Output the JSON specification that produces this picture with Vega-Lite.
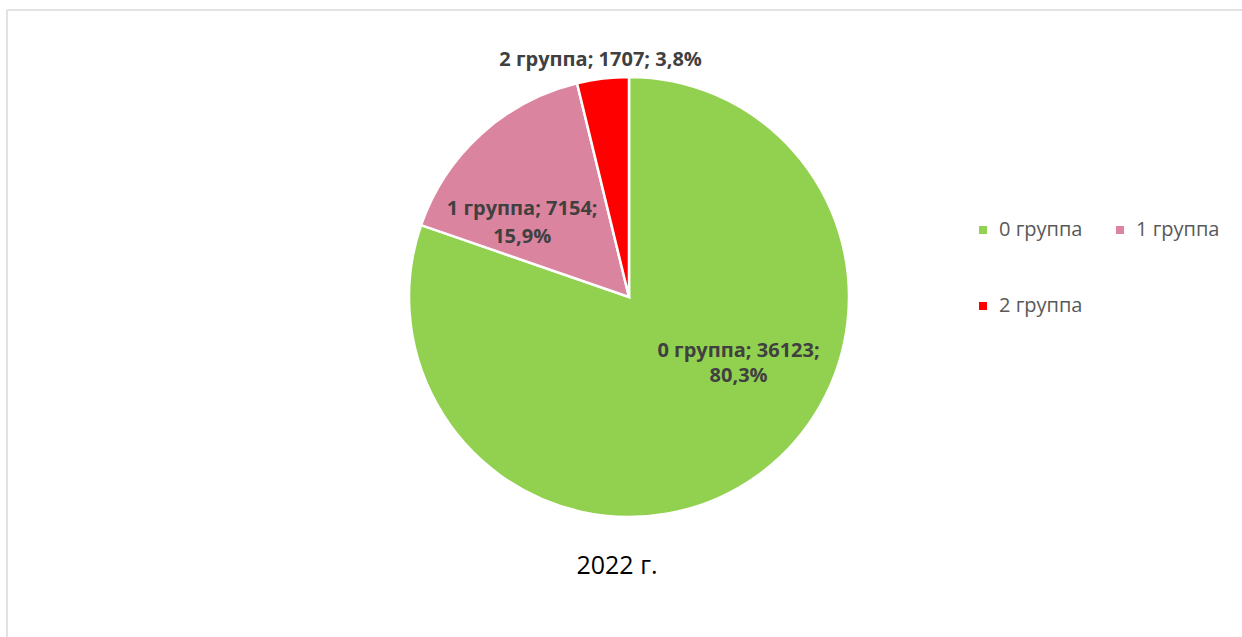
{
  "$schema": "https://vega.github.io/schema/vega-lite/v6.json",
  "autosize": "none",
  "padding": {"left": 7, "top": 10, "right": 0, "bottom": 53},
  "width": 1244,
  "height": 574,
  "background": "white",
  "config": {"view": {"stroke": null}, "font": "Open Sans"},
  "title": {"text": "2022 г.", "orient": "bottom", "frame": "group", "offset": -84, "dx": -12, "fontSize": 25, "fontWeight": "normal", "color": "#000000", "font": "Open Sans", "anchor": "middle"},
  "data": {"values": [
    {"grp": "0 группа", "value": 36123, "ord": 0, "label": "0 группа; 36123;\n80,3%"},
    {"grp": "1 группа", "value": 7154, "ord": 1, "label": "1 группа; 7154;\n15,9%"},
    {"grp": "2 группа", "value": 1707, "ord": 2, "label": "2 группа; 1707; 3,8%"}
  ]},
  "layer": [
    {
      "data": {"values": [{}]},
      "mark": {"type": "rule", "color": "#d9d9d9", "strokeWidth": 1.5},
      "encoding": {"y": {"value": 0}}
    },
    {
      "data": {"values": [{}]},
      "mark": {"type": "rule", "color": "#d9d9d9", "strokeWidth": 1.5},
      "encoding": {"x": {"value": 0}, "y": {"value": 0}, "y2": {"value": 627}}
    },
    {
      "mark": {"type": "arc", "outerRadius": 220, "stroke": "white", "strokeWidth": 2.5},
      "encoding": {
        "theta": {"field": "value", "type": "quantitative", "stack": true},
        "order": {"field": "ord", "type": "quantitative"},
        "color": {
          "field": "grp", "type": "nominal",
          "scale": {"domain": ["0 группа", "1 группа", "2 группа"], "range": ["#92d050", "#db849f", "#ff0000"]},
          "legend": {
            "title": null, "orient": "none", "legendX": 966, "legendY": 210, "columns": 2, "direction": "horizontal",
            "symbolType": "square", "symbolSize": 64, "symbolStrokeWidth": 0,
            "labelFont": "Open Sans", "labelFontSize": 20, "labelColor": "#595959", "labelOffset": 6,
            "rowPadding": 56, "columnPadding": 27, "padding": 0
          }
        }
      }
    },
    {
      "mark": {"type": "text", "radius": 132, "dx": 33, "dy": -54, "fontSize": 20, "fontWeight": "bold", "color": "#404040", "lineBreak": "\n", "lineHeight": 25, "align": "center", "baseline": "middle"},
      "encoding": {
        "theta": {"field": "value", "type": "quantitative", "stack": true},
        "order": {"field": "ord", "type": "quantitative"},
        "detail": {"field": "grp", "type": "nominal"},
        "text": {"condition": {"test": "datum.ord === 0", "field": "label", "type": "nominal"}, "value": ""}
      }
    },
    {
      "mark": {"type": "text", "radius": 132, "dx": -18, "dy": 10, "fontSize": 20, "fontWeight": "bold", "color": "#404040", "lineBreak": "\n", "lineHeight": 28, "align": "center", "baseline": "middle"},
      "encoding": {
        "theta": {"field": "value", "type": "quantitative", "stack": true},
        "order": {"field": "ord", "type": "quantitative"},
        "detail": {"field": "grp", "type": "nominal"},
        "text": {"condition": {"test": "datum.ord === 1", "field": "label", "type": "nominal"}, "value": ""}
      }
    },
    {
      "mark": {"type": "text", "radius": 239, "fontSize": 20, "fontWeight": "bold", "color": "#404040", "align": "center", "baseline": "middle"},
      "encoding": {
        "theta": {"field": "value", "type": "quantitative", "stack": true},
        "order": {"field": "ord", "type": "quantitative"},
        "detail": {"field": "grp", "type": "nominal"},
        "text": {"condition": {"test": "datum.ord === 2", "field": "label", "type": "nominal"}, "value": ""}
      }
    }
  ]
}
